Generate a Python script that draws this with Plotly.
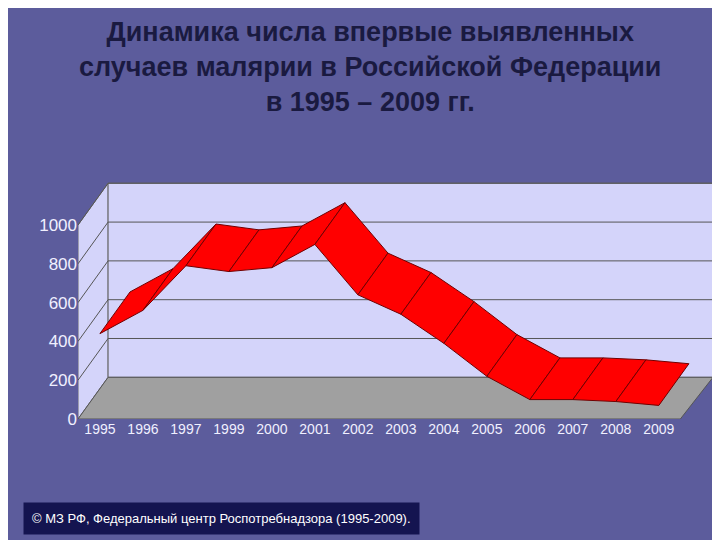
import plotly.graph_objects as go

years = ["1995","1996","1997","1999","2000","2001","2002","2003","2004","2005","2006","2007","2008","2009"]
cases = [440, 560, 790, 760, 780, 900, 640, 540, 390, 220, 100, 100, 90, 70]
ticks = [0, 200, 400, 600, 800, 1000]

DX, DY = 0.7, 215
X0, X1 = -0.51, 14.26
TOP = 1216

fig = go.Figure()
def poly(xs, ys, fill, line, w=1):
    fig.add_trace(go.Scatter(x=xs+[xs[0]], y=ys+[ys[0]], fill="toself", fillcolor=fill,
                             mode="lines", line=dict(color=line, width=w), hoverinfo="skip", showlegend=False))
poly([X0, X0+DX, X0+DX, X0], [0, DY, TOP, 1000], "#d4d4fa", "#666")
poly([X0+DX, X1, X1, X0+DX], [DY, DY, TOP, TOP], "#d4d4fa", "#666")
poly([X0, 13.5, X1, X0+DX], [0, 0, DY, DY], "#a0a0a0", "#555")
for t in ticks[1:]:
    fig.add_trace(go.Scatter(x=[X0, X0+DX, X1], y=[t, t+DY, t+DY], mode="lines",
                             line=dict(color="#555", width=1), hoverinfo="skip", showlegend=False))
for i in range(len(cases)-1):
    poly([i, i+1, i+1+DX, i+DX], [cases[i], cases[i+1], cases[i+1]+DY, cases[i]+DY], "#ff0000", "#700000")

fig.update_layout(
    width=720, height=540, paper_bgcolor="#5c5c9c", plot_bgcolor="rgba(0,0,0,0)",
    margin=dict(l=70, r=15, t=120, b=129, autoexpand=False),
    xaxis=dict(range=[X0, X1], tickvals=list(range(len(years))), ticktext=years, showgrid=False,
               zeroline=False, automargin=False, tickfont=dict(family="Arial", size=14, color="#f0f0ff"), ticks=""),
    yaxis=dict(range=[0, 1500], tickvals=ticks, showgrid=False, zeroline=False, automargin=False,
               tickfont=dict(family="Arial", size=17, color="#f0f0ff"), ticks=""),
    font=dict(family="Arial"),
)
fig.add_annotation(xref="paper", yref="paper", x=0.46, y=1.39, xanchor="center", yanchor="top",
                   text="<b>Динамика числа впервые выявленных<br>случаев малярии в Российской Федерации<br>в 1995 – 2009 гг.</b>",
                   showarrow=False, font=dict(size=27, color="#1a1a40", family="Arial"))
fig.add_annotation(xref="paper", yref="paper", x=-0.087, y=-0.285, xanchor="left", yanchor="top",
                   text="© МЗ РФ, Федеральный центр Роспотребнадзора (1995-2009).", showarrow=False,
                   bgcolor="#141450", borderpad=8, font=dict(size=13, color="white", family="Arial"))
fig.write_html("out.html")
